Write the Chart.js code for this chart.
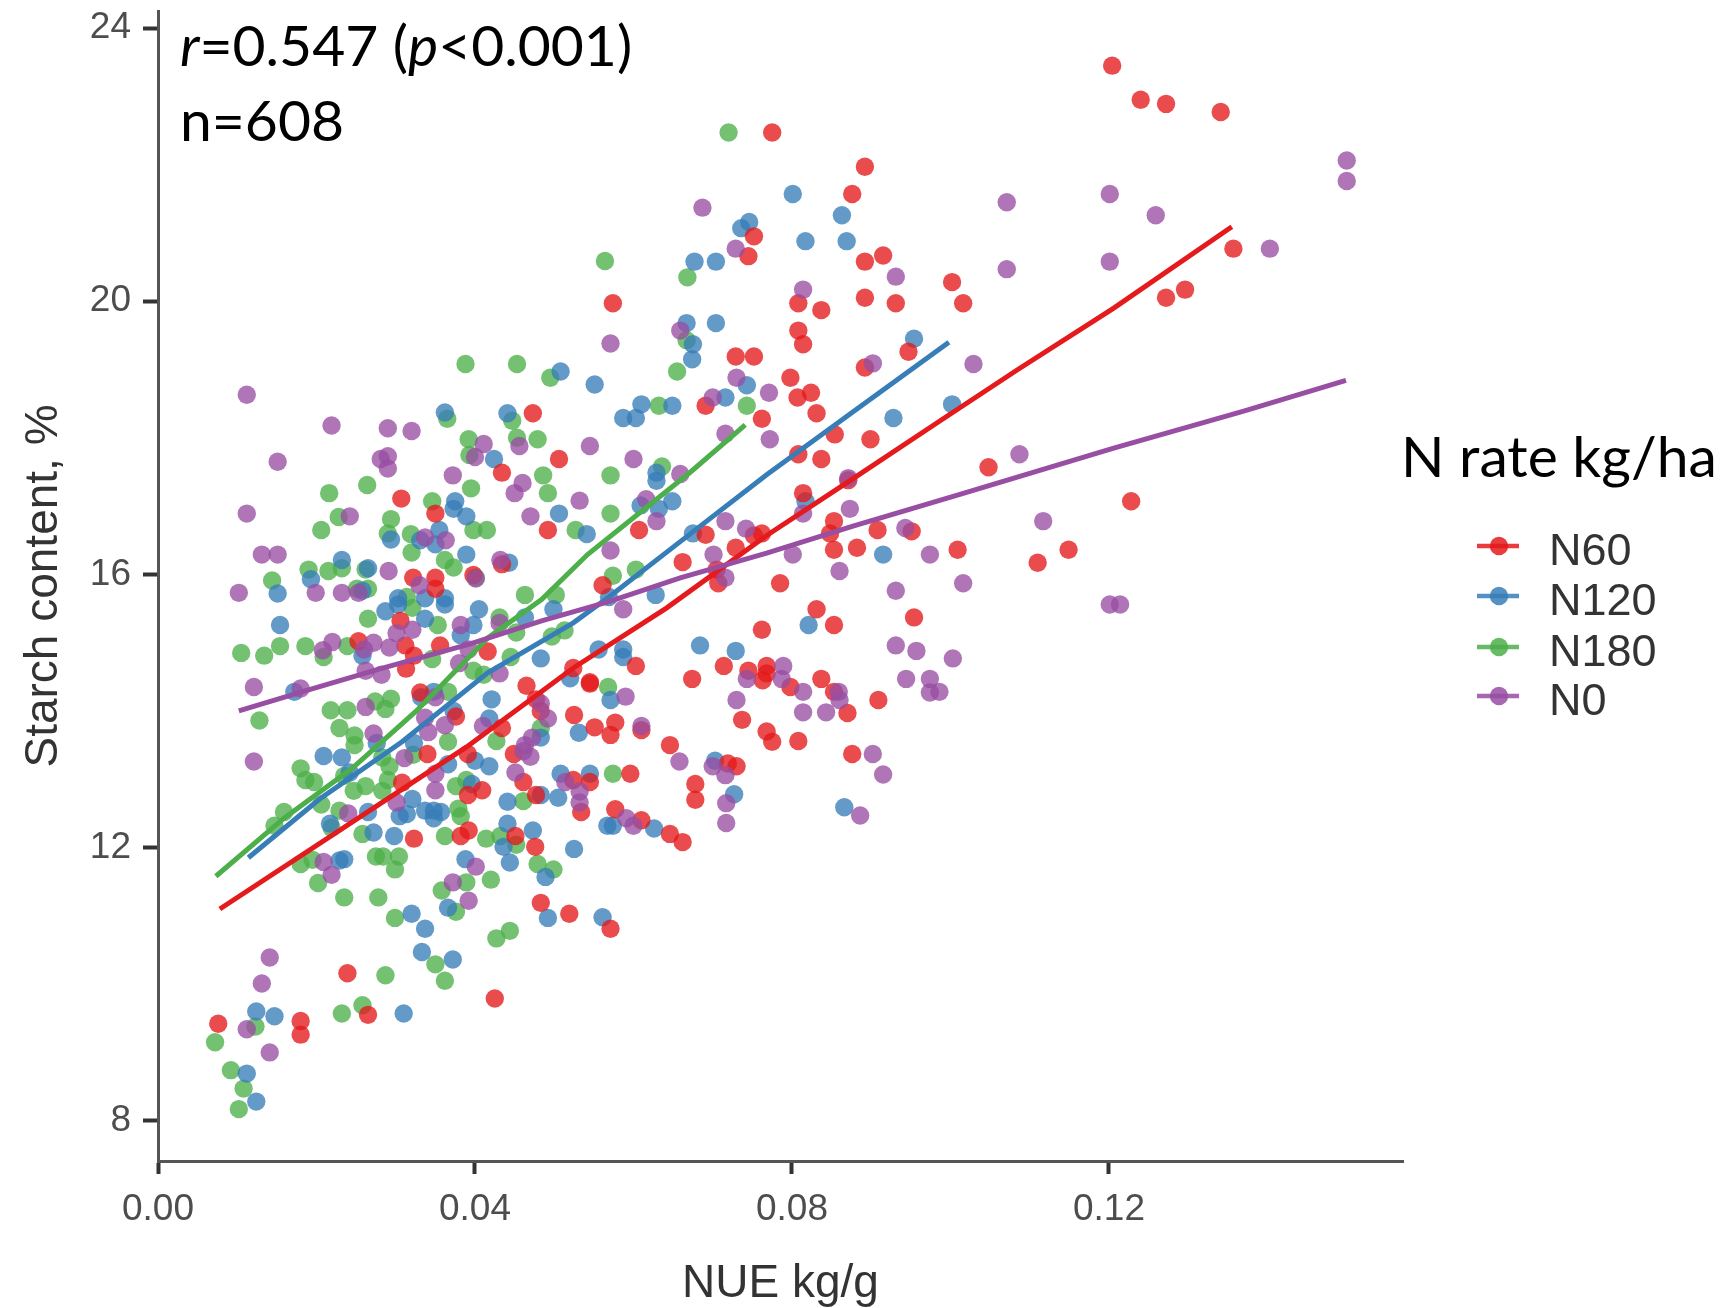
<!DOCTYPE html>
<html><head><meta charset="utf-8">
<style>html,body{margin:0;padding:0;background:#fff}#wrap{width:1729px;height:1308px;position:relative}</style>
<script src="https://cdn.jsdelivr.net/npm/chart.js@4"></script>
</head><body><div id="wrap"><canvas id="c" width="1729" height="1308"></canvas></div>
<script>
const seriesNames = ["N60","N120","N180","N0"];
const seriesColors = ["#E41A1C","#377EB8","#4DAF4A","#984EA3"];
const xTicks = [0,0.04,0.08,0.12];
const yTicks = [8,12,16,20,24];
const xTitle = "NUE kg/g";
const yTitle = "Starch content, %";
const legendTitle = "N rate kg/ha";

const n60 = [[.0574,19.97],[.0473,18.36],[.0506,17.69],[.0434,17.49],[.0307,17.11],[.0350,16.89],[.0492,16.65],[.0607,16.65],[.0662,16.18],[.0322,15.95],[.0350,15.95],[.0398,15.99],[.0350,15.79],[.0561,15.84],[.0434,16.15],
[.0253,15.02],[.0306,15.32],[.0312,14.96],[.0323,14.81],[.0356,14.96],[.0313,14.62],[.0416,14.87],[.0524,14.63],[.0545,14.42],[.0545,14.40],[.0603,14.66],[.0465,14.37],[.0331,14.27],[.0477,14.17],[.0483,14.00],[.0525,13.94],[.0551,13.76],[.0577,13.83],[.0571,13.65],[.0610,13.72],[.0376,13.92],[.0434,13.75],[.0340,13.37],[.0391,13.37],[.0449,13.37],[.0646,13.50],[.0308,12.95],[.0461,12.96],[.0477,12.77],[.0409,12.84],[.0391,12.77],[.0524,12.99],[.0545,12.96],[.0596,13.08],[.0534,12.52],[.0577,12.56],[.0610,12.40],[.0323,12.13],[.0382,12.17],[.0392,12.25],[.0451,12.17],[.0476,12.01],[.0646,12.20],[.0662,12.08],[.0483,11.19],[.0519,11.03],[.0571,10.81],[.0239,10.16],[.0265,9.55],[.0076,9.42],[.0180,9.46],[.0180,9.26],[.0425,9.79],
[.0775,22.47],[.0892,21.97],[.0876,21.57],[.1204,23.45],[.1240,22.95],[.1272,22.89],[.1341,22.77],[.0752,20.95],[.0745,20.66],[.1357,20.77],[.0892,20.58],[.0915,20.67],[.0892,20.05],[.0931,19.97],[.1002,20.28],[.1016,19.97],[.1272,20.05],[.1296,20.17],[.0808,19.97],[.0837,19.87],[.0808,19.57],[.0814,19.37],[.0729,19.19],[.0752,19.19],[.0892,19.03],[.0947,19.26],[.0798,18.88],[.0824,18.66],[.0807,18.59],[.0831,18.36],[.0691,18.47],[.0762,18.28],[.0854,18.05],[.0899,17.98],[.0808,17.76],[.0837,17.69],[.1048,17.57],[.0871,17.38],[.0814,17.19],[.1228,17.07],[.0853,16.78],[.0848,16.60],[.0908,16.65],[.0951,16.63],[.0691,16.58],[.0752,16.57],[.0762,16.60],[.0729,16.39],[.0853,16.36],[.0882,16.39],[.1009,16.36],[.1149,16.36],[.1110,16.17],[.0705,16.07],[.0707,15.87],[.0785,15.87],
[.0831,15.49],[.0853,15.26],[.0954,15.37],[.0762,15.19],[.0714,14.66],[.0745,14.59],[.0768,14.66],[.0763,14.45],[.0768,14.55],[.0674,14.47],[.0837,14.47],[.0798,14.35],[.0853,14.28],[.0909,14.16],[.0870,13.97],[.0737,13.87],[.0768,13.70],[.0775,13.55],[.0808,13.56],[.0876,13.37],[.0719,13.23],[.0730,13.19],[.0678,12.93],[.0678,12.70]];

const n120 = [[.0667,19.68],[.0674,19.15],[.0508,18.97],[.0551,18.78],[.0610,18.49],[.0649,18.47],[.0587,18.29],[.0603,18.29],[.0362,18.37],[.0441,18.36],[.0424,17.69],[.0629,17.49],[.0629,17.37],[.0375,17.07],[.0373,16.96],[.0389,16.85],[.0506,16.89],[.0649,17.07],[.0609,17.01],[.0632,16.96],[.0355,16.65],[.0541,16.59],[.0331,16.50],[.0350,16.44],[.0294,16.51],[.0389,16.29],[.0443,16.17],[.0232,16.21],[.0193,15.93],[.0265,16.09],[.0151,15.72],[.0258,15.76],[.0303,15.65],[.0337,15.65],[.0362,15.65],[.0569,15.67],[.0628,15.70],
[.0154,15.26],[.0287,15.46],[.0303,15.56],[.0337,15.35],[.0362,15.56],[.0405,15.49],[.0398,15.26],[.0382,15.11],[.0258,14.81],[.0499,15.49],[.0463,15.37],[.0483,14.77],[.0556,14.90],[.0587,14.90],[.0587,14.79],[.0520,14.48],[.0172,14.28],[.0332,14.20],[.0348,14.28],[.0421,14.17],[.0571,14.16],[.0373,14.00],[.0418,13.89],[.0276,13.53],[.0323,13.53],[.0483,13.61],[.0209,13.34],[.0232,13.32],[.0400,13.27],[.0418,13.19],[.0366,13.22],[.0531,13.68],[.0242,13.10],[.0508,13.08],[.0545,13.08],[.0321,12.71],[.0396,12.93],[.0441,12.67],[.0483,12.77],[.0505,12.73],[.0337,12.54],[.0348,12.54],[.0357,12.52],[.0305,12.46],[.0314,12.49],[.0348,12.43],[.0265,12.52],[.0217,12.35],[.0272,12.22],[.0298,12.17],[.0441,12.35],[.0473,12.25],[.0436,12.01],[.0444,11.78],[.0525,11.98],[.0567,12.32],[.0574,12.32],[.0626,12.28],[.0235,11.83],[.0229,11.81],[.0388,11.83],[.0320,11.03],[.0337,10.81],[.0366,11.12],[.0333,10.47],[.0372,10.36],[.0489,11.57],[.0492,10.97],[.0561,10.98],[.0310,9.57],[.0124,9.60],[.0147,9.53],[.0112,8.69],[.0124,8.28],
[.0801,21.57],[.0863,21.26],[.0736,21.07],[.0746,21.16],[.0817,20.88],[.0869,20.88],[.0677,20.58],[.0704,20.58],[.0704,19.68],[.0675,19.37],[.0954,19.45],[.0743,18.77],[.0716,18.59],[.1002,18.49],[.0928,18.29],[.0817,17.07],[.0675,16.60],[.0915,16.29],
[.0821,15.26],[.0684,14.96],[.0729,14.88],[.0703,13.27],[.0727,12.78],[.0866,12.59]];

const n180 = [[.0564,20.59],[.0388,19.08],[.0453,19.08],[.0495,18.88],[.0632,18.47],[.0655,18.97],[.0668,20.35],[.0667,19.43],[.0365,18.28],[.0447,18.25],[.0392,17.98],[.0453,18.0],[.0479,17.98],[.0393,17.75],[.0486,17.45],[.0571,17.45],[.0395,17.26],[.0492,17.19],[.0636,17.58],[.0264,17.31],[.0216,17.19],[.0346,17.07],[.0571,16.89],[.0228,16.84],[.0206,16.65],[.0294,16.81],[.0290,16.60],[.0319,16.59],[.0398,16.65],[.0415,16.65],[.0527,16.65],[.0320,16.32],[.0362,16.21],[.0373,16.10],[.0190,16.07],[.0144,15.91],[.0215,16.05],[.0232,16.09],[.0262,16.07],[.0603,16.07],[.0574,15.98],[.0401,15.95],[.0251,15.79],[.0265,15.79],[.0463,15.70],[.0502,15.70],[.0314,15.67],
[.0105,14.85],[.0134,14.81],[.0154,14.95],[.0186,14.95],[.0209,14.79],[.0239,14.95],[.0265,15.35],[.0321,15.51],[.0353,15.26],[.0431,15.37],[.0452,15.15],[.0346,14.76],[.0497,15.09],[.0513,15.18],[.0445,14.79],[.0398,14.59],[.0411,14.53],[.0128,13.86],[.0218,14.01],[.0239,14.01],[.0274,14.14],[.0294,14.18],[.0287,14.03],[.0366,14.28],[.0229,13.75],[.0248,13.64],[.0248,13.50],[.0568,14.35],[.0366,13.55],[.0322,13.36],[.0427,13.56],[.0483,13.75],[.0180,13.16],[.0186,12.99],[.0197,12.96],[.0247,12.83],[.0262,12.90],[.0235,13.05],[.0283,13.32],[.0292,13.19],[.0290,12.99],[.0283,12.83],[.0574,13.08],[.0376,12.90],[.0389,12.99],[.0461,12.68],[.0206,12.63],[.0229,12.54],[.0159,12.52],[.0147,12.32],[.0219,12.29],[.0258,12.20],[.0362,12.17],[.0379,12.57],[.0382,12.46],[.0414,12.13],[.0432,12.17],[.0452,12.04],[.0275,11.87],[.0284,11.87],[.0304,11.87],[.0180,11.76],[.0195,11.82],[.0299,11.68],[.0202,11.48],[.0235,11.27],[.0278,11.27],[.0389,11.49],[.0358,11.37],[.0376,11.06],[.0299,10.97],[.0420,11.53],[.0479,11.76],[.0499,11.68],[.0427,10.67],[.0444,10.78],[.0350,10.29],[.0362,10.05],[.0287,10.13],[.0232,9.57],[.0258,9.69],[.0123,9.38],[.0072,9.15],[.0092,8.74],[.0108,8.47],[.0102,8.17],
[.0720,22.47],[.0743,18.47]];

const n0 = [[.0571,19.38],[.0659,19.57],[.0112,18.63],[.0219,18.18],[.0290,18.14],[.0320,18.10],[.0151,17.65],[.0411,17.91],[.0456,17.88],[.0545,17.88],[.0600,17.69],[.0281,17.69],[.0290,17.73],[.0290,17.55],[.0400,17.72],[.0372,17.45],[.0460,17.34],[.0450,17.19],[.0532,17.08],[.0616,17.10],[.0659,17.47],[.0112,16.89],[.0242,16.85],[.0470,16.85],[.0629,16.78],[.0337,16.54],[.0363,16.50],[.0131,16.29],[.0151,16.29],[.0571,16.35],[.0291,16.05],[.0432,16.21],[.0401,15.94],[.0102,15.73],[.0199,15.73],[.0232,15.73],[.0253,15.73],[.0330,15.84],
[.0382,15.26],[.0431,15.29],[.0301,15.14],[.0321,15.19],[.0220,15.01],[.0272,15.00],[.0292,14.93],[.0260,14.90],[.0208,14.89],[.0392,14.90],[.0587,15.49],[.0262,14.59],[.0282,14.53],[.0380,14.70],[.0431,14.55],[.0121,14.35],[.0180,14.33],[.0262,14.06],[.0350,14.20],[.0590,14.21],[.0483,14.11],[.0337,13.90],[.0362,13.79],[.0341,13.69],[.0272,13.67],[.0410,13.78],[.0492,13.89],[.0610,13.78],[.0463,13.50],[.0472,13.61],[.0461,13.41],[.0470,13.33],[.0311,13.31],[.0451,13.10],[.0658,13.26],[.0121,13.26],[.0350,13.08],[.0350,12.84],[.0514,12.96],[.0532,12.82],[.0532,12.66],[.0301,12.66],[.0240,12.50],[.0591,12.43],[.0600,12.32],[.0209,11.79],[.0219,11.60],[.0401,11.72],[.0372,11.49],[.0392,11.22],[.0141,10.39],[.0131,10.01],[.0112,9.34],[.0141,9.0],
[.0687,21.37],[.0729,20.77],[.1071,21.45],[.1201,21.57],[.1259,21.26],[.1500,22.06],[.1500,21.76],[.1403,20.77],[.1201,20.58],[.1071,20.47],[.0931,20.36],[.0814,20.17],[.0902,19.09],[.1029,19.08],[.0730,18.88],[.0771,18.66],[.0700,18.59],[.0716,18.06],[.0772,17.98],[.1087,17.76],[.0871,17.41],[.0873,16.96],[.0814,16.89],[.0716,16.78],[.0742,16.67],[.1117,16.78],[.0943,16.68],[.0801,16.29],[.0701,16.29],[.0974,16.29],[.0860,16.05],[.1016,15.87],[.0716,15.95],[.0931,15.76],
[.1201,15.56],[.1214,15.56],[.0931,14.96],[.0957,14.88],[.1003,14.77],[.0789,14.66],[.0743,14.47],[.0787,14.47],[.0944,14.47],[.0974,14.47],[.0814,14.28],[.0859,14.28],[.0974,14.27],[.0986,14.28],[.0860,14.16],[.0730,14.16],[.0814,13.98],[.0843,13.98],[.0902,13.37],[.0915,13.07],[.0700,13.19],[.0716,13.06],[.0717,12.65],[.0886,12.47],[.0717,12.36]];

const n60Trend = [[.0078,11.10],[.0389,13.47],[.0524,14.63],[.0642,15.51],[.0768,16.57],[.0878,17.41],[.0987,18.25],[.1085,19.0],[.1206,19.9],[.1355,21.09]];
const n120Trend = [[.0114,11.85],[.0204,12.71],[.0308,13.55],[.0416,14.56],[.0524,15.29],[.0569,15.67],[.0659,16.48],[.0768,17.46],[.0878,18.39],[.0998,19.40]];
const n180Trend = [[.0073,11.58],[.0159,12.43],[.0245,13.16],[.0326,14.0],[.0416,15.07],[.0484,15.63],[.0542,16.29],[.0672,17.5],[.0741,18.19]];
const n0Trend = [[.0102,14.0],[.0190,14.31],[.0281,14.62],[.0393,14.98],[.0484,15.32],[.0569,15.6],[.0659,15.95],[.0768,16.31],[.0878,16.71],[.1014,17.18],[.1206,17.85],[.1370,18.39],[.1499,18.84]];

const pointSets = [n60,n120,n180,n0];
const trendSets = [n60Trend,n120Trend,n180Trend,n0Trend];
const pts = a => a.map(p => ({x:p[0],y:p[1]}));
const hexA = (h,a)=>{const n=parseInt(h.slice(1),16);return `rgba(${n>>16},${(n>>8)&255},${n&255},${a})`;};
const drawOrder = {N180:40,N120:30,N60:20,N0:10};
const noPad = s=>{s.paddingTop=0;s.paddingBottom=0;s.paddingLeft=0;s.paddingRight=0;};

const datasets = [];
seriesNames.forEach((name,i)=>{
  datasets.push({label:name,data:pts(pointSets[i]),order:drawOrder[name],showLine:false,
    pointRadius:9.2,pointBorderWidth:0,pointBackgroundColor:hexA(seriesColors[i],0.78)});
});
seriesNames.forEach((name,i)=>{
  datasets.push({label:name+" trend",data:pts(trendSets[i]),order:4-i,showLine:true,tension:0,
    borderColor:seriesColors[i],borderWidth:5,pointRadius:0});
});

const overlay = {id:'overlay',afterDraw(ch){
  const c = ch.ctx; c.save();
  c.textBaseline='alphabetic'; c.textAlign='left'; c.fillStyle='#000';
  const big='57px Lato', bigI='italic 57px Lato';
  const segs=[["r",bigI],["=0.547 (",big],["p",bigI],["<0.001)",big]];
  let x=180;
  segs.forEach(s=>{c.font=s[1];c.fillText(s[0],x,66);x+=c.measureText(s[0]).width;});
  c.font=big; c.fillText("n=608",180,141);
  c.fillText(legendTitle,1401,477);
  const rows=[546,596,647,696];
  seriesNames.forEach((n,i)=>{
    c.strokeStyle=seriesColors[i]; c.lineWidth=4.6; c.globalAlpha=.85;
    c.beginPath();c.moveTo(1477,rows[i]);c.lineTo(1519,rows[i]);c.stroke();
    c.fillStyle=seriesColors[i];c.beginPath();c.arc(1499,rows[i],9.2,0,Math.PI*2);c.fill();
    c.globalAlpha=1;
    c.fillStyle='#333';c.font='45px "Liberation Sans"';c.textBaseline='middle';
    c.fillText(n,1549,rows[i]+7);
  });
  c.restore();
}};

new Chart(document.getElementById('c'),{
  type:'scatter',
  data:{datasets},
  plugins:[overlay],
  options:{
    responsive:false,animation:false,
    layout:{autoPadding:false,padding:{top:11,right:326,left:0,bottom:0}},
    plugins:{legend:{display:false},tooltip:{enabled:false},title:{display:false}},
    scales:{
      x:{type:'linear',min:0,max:0.1571,
        afterBuildTicks:s=>{s.ticks=xTicks.map(v=>({value:v}));},
        afterFit:s=>{s.height=147;noPad(s);},
        ticks:{callback:v=>v.toFixed(2),color:'#4D4D4D',font:{family:'"Liberation Sans"',size:37},padding:14,maxRotation:0,autoSkip:false},
        grid:{display:true,drawOnChartArea:false,tickLength:13,tickWidth:4,tickColor:'#333'},
        border:{display:true,color:'#555',width:3},
        title:{display:true,text:xTitle,color:'#333',font:{family:'"Liberation Sans"',size:46},padding:{top:0,bottom:-4}}
      },
      y:{type:'linear',min:7.41,max:24.25,
        afterBuildTicks:s=>{s.ticks=yTicks.map(v=>({value:v}));},
        afterFit:s=>{s.width=158;noPad(s);},
        ticks:{callback:v=>String(v),color:'#4D4D4D',font:{family:'"Liberation Sans"',size:37},padding:12,autoSkip:false},
        grid:{display:true,drawOnChartArea:false,tickLength:15,tickWidth:4,tickColor:'#333'},
        border:{display:true,color:'#555',width:3},
        title:{display:true,text:yTitle,color:'#333',font:{family:'"Liberation Sans"',size:46},padding:{top:17,bottom:0}}
      }
    }
  }
});
</script></body></html>
